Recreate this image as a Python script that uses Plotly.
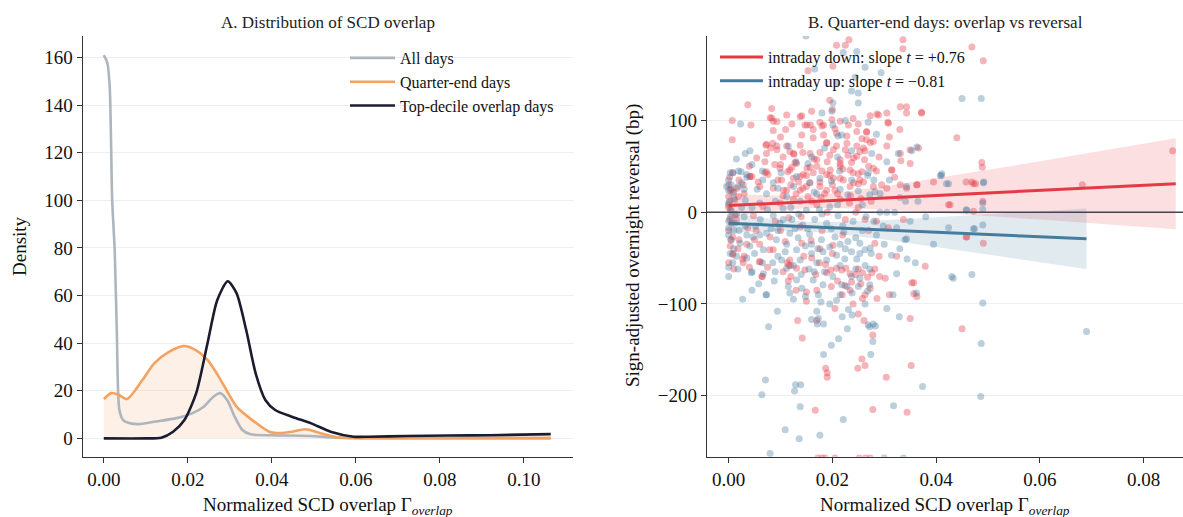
import plotly.graph_objects as go

# ---------------- Panel A: densities ----------------
all_x = [0, 0.0008, 0.0014, 0.002, 0.0026, 0.0031, 0.0037, 0.0046, 0.006, 0.0083, 0.012, 0.0174,
         0.021, 0.0238, 0.0261, 0.0277, 0.0294, 0.0312, 0.033, 0.0349, 0.04, 0.049, 0.0555, 0.062,
         0.08, 0.1, 0.1064]
all_y = [161, 158, 148, 100, 79, 45, 12, 7.7, 6.5, 6, 7, 8.5, 10.5, 13.3, 17.5, 19, 16, 9, 3.5, 1.7,
         1.3, 1, 0.3, 0.1, 0.1, 0.1, 0.1]

qe_x = [0, 0.0018, 0.0036, 0.0055, 0.0092, 0.012, 0.0156, 0.019, 0.022, 0.0247, 0.027, 0.0293,
        0.0316, 0.0348, 0.0394, 0.0421, 0.0449, 0.048, 0.0512, 0.0555, 0.061, 0.08, 0.1, 0.1064]
qe_y = [16.5, 19, 18.2, 16.5, 24.5, 31.5, 36.4, 38.8, 37, 33, 27, 20, 13.3, 8.4, 2.8, 2.2, 2.8, 3.8,
        2.4, 0.5, 0.1, 0.1, 0.1, 0.1]

top_x = [0, 0.01, 0.0137, 0.0165, 0.0192, 0.022, 0.0247, 0.027, 0.0295, 0.0316, 0.0339, 0.0362,
         0.0385, 0.0408, 0.0449, 0.0494, 0.054, 0.0595, 0.063, 0.072, 0.082, 0.092, 0.1064]
top_y = [0, 0, 0.3, 2.8, 7.7, 19, 40, 58, 66, 61, 45.5, 27, 16, 11.9, 9, 6.3, 2.8, 0.7, 0.7, 1, 1.2,
         1.3, 1.8]

# ---------------- Panel B: scatter ----------------
down_pts = [
    (0.0208, 182), (0.0232, 188), (0.0153, 154), (0.0195, 122), (0.0037, 117), (0.0007, 100),
    (0.0043, 95), (0.0083, 113), (0.0141, 105), (0.0151, 95), (0.0122, 96), (0.0086, 89),
    (0.0073, 74), (0.0093, 72), (0.0105, 60), (0.0143, 65), (0.0128, 54), (0.0176, 98),
    (0.0180, 94), (0.0205, 91), (0.0228, 83), (0.0189, 76), (0.0176, 65), (0.0208, 72),
    (0.0247, 72), (0.0237, 54), (0.0215, 53), (0.0157, 49), (0.0122, 49), (0.0201, 159),
    (0.0469, 180), (0.0336, 188), (0.0225, 182), (0.0336, 178), (0.0491, 165), (0.0343, 115),
    (0.0372, 109), (0.0286, 107), (0.0273, 105), (0.0307, 98), (0.0250, 96), (0.0440, 81),
    (0.0266, 87), (0.0257, 80), (0.0273, 76), (0.0305, 72), (0.0263, 67), (0.0331, 64),
    (0.0350, 53), (0.0488, 54), (0.0489, 49), (0.0247, 61), (0.0262, 57), (0.0285, 45),
    (0.0180, 45), (0.0195, 40),
    (0.0008, 43), (0.0045, 39), (0.0076, 41), (0.0095, 35), (0.0114, 44), (0.0138, 39),
    (0.0163, 43), (0.0189, 41), (0.0215, 37), (0.0240, 43), (0.0086, 26), (0.0112, 24),
    (0.0143, 26), (0.0176, 28), (0.0205, 24), (0.0234, 28), (0.0000, 17), (0.0000, 10),
    (0.0003, 2.5), (0.0012, -3), (0.0006, -12), (0.0008, -27), (0.0003, -37), (0.0008, -45),
    (0.0000, -55), (0.0028, -55), (0.0061, -54), (0.0086, -41), (0.0118, -52), (0.0131, -61),
    (0.0147, -63), (0.0150, -87), (0.0064, -70), (0.0189, -66), (0.0218, -63), (0.0226, -61),
    (0.0237, -76), (0.0176, -40), (0.0037, -17), (0.0053, -20), (0.0080, -27), (0.0109, -32),
    (0.0141, -34), (0.0159, -31), (0.0201, -36), (0.0099, 10), (0.0125, 14), (0.0153, 17),
    (0.0178, 16), (0.0215, 14), (0.0233, 10), (0.0066, 6), (0.0048, -4), (0.0116, -6),
    (0.0190, 0), (0.0225, -8), (0.0138, -16), (0.0150, -97), (0.0219, -90),
    (0.0000, 30), (0.0005, 25), (0.0010, 22), (0.0000, 5), (0.0015, -8), (0.0000, -20),
    (0.0020, -30), (0.0010, -62), (0.0030, -48), (0.0008, -46), (0.0027, -51), (0.0059, -54),
    (0.0065, -70), (0.0079, -41), (0.0113, -55), (0.0116, -58), (0.0119, -58), (0.0168, -68),
    (0.0187, -57), (0.0197, -63), (0.0208, -61), (0.0224, -80), (0.0234, -67), (0.0245, -68),
    (0.0258, -66), (0.0268, -71), (0.0276, -66), (0.0357, -89), (0.0258, -94), (0.0234, -85),
    (0.0198, -81),
    (0.0250, 42), (0.0260, 33), (0.0250, 31), (0.0314, 46), (0.0363, 30), (0.0469, 33),
    (0.0472, 31), (0.0490, 12), (0.0427, 8), (0.0472, 1), (0.0250, 5), (0.0263, -8),
    (0.0308, -17), (0.0337, -8), (0.0459, -27), (0.0491, -34), (0.0282, -34), (0.0324, -48),
    (0.0379, -59), (0.0282, -62), (0.0250, -62), (0.0302, -72), (0.0291, -70), (0.0353, -77),
    (0.0357, -77), (0.0273, -83), (0.0263, -90), (0.0286, -94), (0.0310, -90), (0.0363, -92),
    (0.0133, -118), (0.0142, -137), (0.0170, -118), (0.0250, -111), (0.0187, -170),
    (0.0190, -175), (0.0190, -180), (0.0249, -170), (0.0167, -216), (0.0172, -268),
    (0.0180, -268), (0.0186, -268), (0.0205, -268), (0.0261, -118), (0.0350, -116),
    (0.0450, -127), (0.0278, -134), (0.0257, -160), (0.0263, -167), (0.0352, -167),
    (0.0304, -180), (0.0278, -215), (0.0344, -218), (0.0252, -268), (0.0264, -268),
    (0.0273, -268),
    (0.0856, 67), (0.0682, 30), (0.0458, 33), (0.0476, 31), (0.0458, -27), (0.0424, 8),
    (0.0007, 79), (0.0080, 103), (0.0086, 99), (0.0072, 73), (0.0081, 70), (0.0085, 75),
    (0.0118, 66), (0.0158, 95), (0.0141, 84), (0.0126, 63), (0.0041, 39), (0.0070, 43),
    (0.0100, 52), (0.0135, 33), (0.0165, 58), (0.0190, 55), (0.0220, 47), (0.0150, 40),
    (0.0060, 28), (0.0030, 20), (0.0170, 8), (0.0200, 30), (0.0230, 62), (0.0100, 82),
    (0.0083, 102.5), (0.0093, 98.8), (0.0112, 106), (0.0138, 104), (0.0147, 95), (0.0183, 95),
    (0.0199, 101), (0.0215, 99), (0.0231, 95), (0.0247, 88), (0.0266, 88), (0.0279, 77),
    (0.0289, 106), (0.0305, 108), (0.0308, 97), (0.0331, 115), (0.0343, 108), (0.0372, 108),
    (0.0350, 68), (0.0366, 70), (0.0332, 56), (0.0315, 46), (0.0279, 48), (0.0257, 44),
    (0.0234, 46), (0.0215, 50), (0.0196, 46), (0.0170, 50), (0.0151, 48), (0.0131, 53),
    (0.0118, 46), (0.0099, 48), (0.0089, 52), (0.0073, 44), (0.0057, 33), (0.0041, 39),
    (0.0028, 30), (0.0016, 26), (0.0003, 24), (0.0012, 13), (0.0019, 17), (0.0102, 35),
    (0.0125, 37), (0.0144, 41), (0.0157, 32), (0.0176, 33), (0.0202, 37), (0.0221, 35),
    (0.0241, 32), (0.0253, 35), (0.0279, 28), (0.0305, 26), (0.0331, 30), (0.0343, 26),
    (0.0363, 30), (0.0395, 33), (0.0106, 24), (0.0138, 24), (0.0189, 24), (0.0170, 57),
    (0.0215, 57), (0.0241, 59), (0.0253, 66), (0.0202, 68), (0.0228, 75), (0.0189, 75),
    (0.0163, 81), (0.0138, 73), (0.0112, 72), (0.0093, 68), (0.0073, 64), (0.0054, 59),
    (0.0125, 64), (0.0157, 64), (0.0266, 79), (0.0260, 70), (0.0208, 86), (0.0183, 84),
    (0.0163, 90),
    (0.0120, -70), (0.0160, -50), (0.0200, -45), (0.0220, -25), (0.0270, -20), (0.0290, -48),
    (0.0170, -85), (0.0130, -85), (0.0240, -100), (0.0100, -20), (0.0060, -35), (0.0040, -60),
    (0.0285, -10), (0.0180, -20), (0.0140, -5), (0.0245, 0), (0.0090, -10), (0.0050, -30),
    (0.0115, -75), (0.0205, -105),
    (0.0105, 18), (0.0130, 20), (0.0160, 12), (0.0185, 20), (0.0210, 20), (0.0235, 18),
    (0.0255, 15), (0.0275, 12), (0.0295, 30), (0.0320, 38), (0.0120, 30), (0.0150, 28),
    (0.0195, 62), (0.0225, 68), (0.0270, 50), (0.0290, 60), (0.0310, 82), (0.0330, 90),
    (0.0160, 110), (0.0200, 112), (0.0240, 102), (0.0110, 90), (0.0070, 55), (0.0040, 50),
    (0.0020, 35), (0.0002, 38), (0.0004, -30), (0.0002, -8), (0.0018, -40), (0.0035, -35),
    (0.0075, -60), (0.0105, -65), (0.0145, -48), (0.0175, -55), (0.0210, -75), (0.0255, -78),
]

up_pts = [
    (0.0149, 192), (0.0166, 156), (0.0221, 174), (0.0208, 141), (0.0237, 132), (0.0244, 147),
    (0.0201, 119), (0.0199, 110), (0.0250, 119), (0.0023, 96), (0.0032, 64), (0.0041, 67),
    (0.0201, 95), (0.0211, 83), (0.0153, 53), (0.0008, 43), (0.0024, 44), (0.0237, 67),
    (0.0450, 124), (0.0487, 124), (0.0363, 71), (0.0353, 67), (0.0327, 64), (0.0276, 64),
    (0.0250, 130), (0.0294, 152), (0.0263, 158), (0.0269, 98), (0.0269, 43), (0.0411, 42),
    (0.0247, 175), (0.0218, 84),
    (0.0003, 43), (0.0019, 45), (0.0025, 32), (0.0035, 41), (0.0066, 35), (0.0086, 32),
    (0.0101, 43), (0.0131, 39), (0.0156, 32), (0.0176, 37), (0.0198, 34), (0.0214, 45),
    (0.0237, 35), (-0.0004, 28), (0.0000, 24), (0.0008, 22), (0.0032, 13), (0.0073, 20),
    (0.0112, 17), (0.0138, 12), (0.0170, 20), (0.0195, 6), (0.0230, 19), (0.0003, -5),
    (0.0000, -10), (0.0000, -17), (0.0010, -20), (0.0032, -15), (0.0061, -8), (0.0086, -4),
    (0.0099, -12), (0.0122, -8), (0.0143, -14), (0.0166, -8), (0.0189, -12), (0.0211, -4),
    (0.0240, -10), (0.0047, -27), (0.0073, -23), (0.0092, -30), (0.0118, -23), (0.0134, -28),
    (0.0156, -24), (0.0179, -30), (0.0205, -27), (0.0230, -32), (0.0022, -34), (0.0041, -37),
    (0.0067, -41), (0.0109, -43), (0.0131, -41), (0.0160, -45), (0.0182, -43), (0.0208, -47),
    (0.0237, -43), (0.0102, -52), (0.0138, -52), (0.0170, -55), (0.0189, -52), (0.0224, -51),
    (0.0000, -70), (0.0045, -65), (0.0090, -65), (0.0112, -61), (0.0131, -74), (0.0163, -74),
    (0.0182, -79), (0.0201, -70), (0.0218, -79), (0.0237, -70), (0.0115, -81), (0.0141, -83),
    (0.0228, -81), (0.0027, -95), (0.0073, -90), (0.0173, -90), (0.0215, -90),
    (0.0000, 35), (0.0005, 30), (0.0010, 15), (0.0000, 8), (0.0005, 2), (0.0015, -2),
    (0.0000, -25), (0.0005, -30), (0.0010, -40), (0.0015, -48), (0.0000, -60), (0.0020, -20),
    (0.0025, 5), (0.0030, 25), (0.0035, 38), (0.0044, -66), (0.0067, -67), (0.0072, -90),
    (0.0268, 40), (0.0282, 22), (0.0292, 20), (0.0272, 19), (0.0343, 28), (0.0341, 12),
    (0.0330, 16), (0.0410, 40), (0.0424, 31), (0.0491, 32), (0.0292, 0), (0.0305, 0),
    (0.0320, 0), (0.0459, 2.5), (0.0490, 3), (0.0298, -15), (0.0324, -17), (0.0424, -17),
    (0.0472, -18), (0.0340, -30), (0.0343, -29), (0.0253, -34), (0.0263, -41), (0.0273, -39),
    (0.0253, -45), (0.0314, -47), (0.0344, -51), (0.0247, -51), (0.0263, -58), (0.0272, -62),
    (0.0324, -67), (0.0430, -70), (0.0433, -72), (0.0469, -68), (0.0253, -72), (0.0250, -81),
    (0.0272, -79), (0.0317, -90), (0.0362, -88), (0.0263, -100), (0.0490, -99),
    (0.0094, -108), (0.0170, -108), (0.0160, -117), (0.0173, -116), (0.0171, -122),
    (0.0183, -122), (0.0077, -125), (0.0231, -106), (0.0238, -112), (0.0219, -114),
    (0.0229, -127), (0.0212, -138), (0.0198, -145), (0.0183, -155), (0.0071, -183),
    (0.0129, -188), (0.0139, -188), (0.0127, -195), (0.0064, -199), (0.0138, -212),
    (0.0221, -226), (0.0109, -237), (0.0176, -243), (0.0136, -247), (0.0080, -263),
    (0.0329, -114), (0.0269, -123), (0.0279, -122), (0.0283, -124), (0.0272, -125),
    (0.0278, -141), (0.0274, -155), (0.0487, -143), (0.0374, -190), (0.0486, -201),
    (0.0318, -211), (0.0300, -268), (0.0337, -268),
    (0.0690, -130), (0.0492, 33), (0.0490, 10), (0.0490, -14), (0.0474, -18), (0.0408, 40),
    (0.0420, 31), (0.0458, 2.5), (0.0120, 5), (0.0150, 2), (0.0180, -2), (0.0210, 8),
    (0.0060, 10), (0.0160, -35), (0.0125, -95), (0.0195, -100), (0.0050, -45), (0.0095, -20),
    (0.0055, 25), (0.0095, 26), (0.0125, 28), (0.0165, 22), (0.0215, 25), (0.0250, 23),
    (0.0045, 5), (0.0075, 3), (0.0105, 4), (0.0135, -2), (0.0175, 3), (0.0220, -15),
    (0.0265, -5), (0.0285, -25), (0.0275, -45), (0.0052, -15), (0.0082, -18), (0.0112, -35),
    (0.0148, -37), (0.0195, -38), (0.0225, -40), (0.0245, -28), (0.0035, -50), (0.0065, -55),
    (0.0095, -48), (0.0125, -58), (0.0155, -62), (0.0185, -65), (0.0215, -58), (0.0245, -62),
    (0.0058, -78), (0.0088, -75), (0.0118, -88), (0.0148, -92), (0.0178, -98), (0.0208, -96),
    (0.0238, -88), (0.0268, -86), (0.0045, -85), (0.0160, 60), (0.0130, 55), (0.0185, 70),
    (0.0210, 60), (0.0225, 100), (0.0180, 108), (0.0015, 58), (0.0045, 52), (0.0115, 72),
    (0.0285, 85), (0.0310, 35), (0.0365, 12), (0.0380, -5), (0.0395, -35), (0.0360, -55),
    (0.0305, -105), (0.0002, 12), (0.0012, -12), (0.0008, -55), (0.0018, -62), (0.0003, -45),
    (0.0105, -8), (0.0128, -18), (0.0152, -18), (0.0172, -40), (0.0198, -18), (0.0222, -22),
    (0.0258, -20), (0.0280, -10), (0.0300, -35), (0.0330, -40), (0.0350, -10), (0.0258, 8),
    (0.0280, 35), (0.0305, 55), (0.0215, -35), (0.0165, -65), (0.0140, -68), (0.0085, -55),
    (0.0060, -25), (0.0030, -5), (0.0035, -25), (0.0018, 28), (0.0065, 45), (0.0090, 12),
]
down_x = [p[0] for p in down_pts]
down_y = [p[1] for p in down_pts]
up_x = [p[0] for p in up_pts]
up_y = [p[1] for p in up_pts]

# fitted lines and confidence bands
down_fit_x = [0.0, 0.0862]
down_fit_y = [7.2, 31.0]
down_band_x = [0.0, 0.005, 0.01, 0.015, 0.02, 0.03, 0.04, 0.05, 0.06, 0.07, 0.0862]
down_band_lo = [-5.3, -1.2, 2.2, 4.3, 4.9, 3.0, -0.4, -4.1, -8.1, -12.0, -18.6]
down_band_hi = [19.7, 18.4, 17.8, 18.3, 20.5, 28.0, 36.8, 46.1, 55.5, 65.0, 80.6]

up_fit_x = [0.0, 0.069]
up_fit_y = [-12.0, -29.0]
up_band_x = [0.0, 0.005, 0.01, 0.015, 0.02, 0.03, 0.04, 0.05, 0.06, 0.069]
up_band_lo = [-22.5, -21.2, -20.6, -21.0, -23.0, -29.9, -37.8, -46.1, -54.5, -62.0]
up_band_hi = [-1.5, -5.2, -8.4, -10.4, -10.8, -8.9, -5.8, -2.5, 0.9, 4.0]

RED = "#e63946"
BLUE = "#457b9d"
GRAY = "#adb5bd"
ORANGE = "#f4a261"
DARK = "#1c1c30"
FONT = "Liberation Serif"

fig = go.Figure()

# Panel A
fig.add_trace(go.Scatter(x=qe_x, y=qe_y, mode="none", fill="tozeroy",
                         fillcolor="rgba(244,162,97,0.16)", line=dict(shape="spline", smoothing=0.7),
                         showlegend=False, hoverinfo="skip", xaxis="x", yaxis="y"))
fig.add_trace(go.Scatter(x=all_x, y=all_y, mode="lines", name="All days",
                         line=dict(color=GRAY, width=2.6, shape="spline", smoothing=0.7),
                         xaxis="x", yaxis="y", legend="legend"))
fig.add_trace(go.Scatter(x=qe_x, y=qe_y, mode="lines", name="Quarter-end days",
                         line=dict(color=ORANGE, width=2.6, shape="spline", smoothing=0.7),
                         xaxis="x", yaxis="y", legend="legend"))
fig.add_trace(go.Scatter(x=top_x, y=top_y, mode="lines", name="Top-decile overlap days",
                         line=dict(color=DARK, width=2.6, shape="spline", smoothing=0.7),
                         xaxis="x", yaxis="y", legend="legend"))

# Panel B bands
fig.add_trace(go.Scatter(x=down_band_x, y=down_band_lo, mode="lines", line=dict(width=0),
                         showlegend=False, hoverinfo="skip", xaxis="x2", yaxis="y2"))
fig.add_trace(go.Scatter(x=down_band_x, y=down_band_hi, mode="lines", line=dict(width=0),
                         fill="tonexty", fillcolor="rgba(230,57,70,0.16)",
                         showlegend=False, hoverinfo="skip", xaxis="x2", yaxis="y2"))
fig.add_trace(go.Scatter(x=up_band_x, y=up_band_lo, mode="lines", line=dict(width=0),
                         showlegend=False, hoverinfo="skip", xaxis="x2", yaxis="y2"))
fig.add_trace(go.Scatter(x=up_band_x, y=up_band_hi, mode="lines", line=dict(width=0),
                         fill="tonexty", fillcolor="rgba(69,123,157,0.16)",
                         showlegend=False, hoverinfo="skip", xaxis="x2", yaxis="y2"))

# scatter
fig.add_trace(go.Scatter(x=down_x, y=down_y, mode="markers", showlegend=False,
                         marker=dict(color="rgba(230,57,70,0.38)", size=7, line=dict(width=0)),
                         xaxis="x2", yaxis="y2"))
fig.add_trace(go.Scatter(x=up_x, y=up_y, mode="markers", showlegend=False,
                         marker=dict(color="rgba(69,123,157,0.36)", size=7, line=dict(width=0)),
                         xaxis="x2", yaxis="y2"))

# fit lines
fig.add_trace(go.Scatter(x=down_fit_x, y=down_fit_y, mode="lines",
                         name="intraday down: slope <i>t</i> = +0.76",
                         line=dict(color=RED, width=3), xaxis="x2", yaxis="y2", legend="legend2"))
fig.add_trace(go.Scatter(x=up_fit_x, y=up_fit_y, mode="lines",
                         name="intraday up: slope <i>t</i> = \u22120.81",
                         line=dict(color=BLUE, width=3), xaxis="x2", yaxis="y2", legend="legend2"))

W, H = 1183, 517
top_px, bot_px = 36, 456.7
ydom = [1 - bot_px / H, 1 - top_px / H]
axis_common = dict(showline=True, linecolor="#333333", linewidth=1.4, ticks="outside",
                   ticklen=5, tickwidth=1.2, tickcolor="#333333", zeroline=False,
                   tickfont=dict(family=FONT, size=19, color="#111111"))

fig.update_layout(
    width=W, height=H, margin=dict(l=0, r=0, t=0, b=0),
    paper_bgcolor="white", plot_bgcolor="white",
    font=dict(family=FONT, color="#111111"),
    xaxis=dict(domain=[82.7 / W, 573 / W], range=[-0.00502, 0.1117],
               tickvals=[0, 0.02, 0.04, 0.06, 0.08, 0.10], tickformat=".2f",
               showgrid=False, anchor="y", **axis_common),
    yaxis=dict(domain=ydom, range=[-7.7, 169], tickvals=[0, 20, 40, 60, 80, 100, 120, 140, 160],
               showgrid=True, gridcolor="#eceef2", gridwidth=1, anchor="x", **axis_common),
    xaxis2=dict(domain=[707 / W, 1.0], range=[-0.00417, 0.0876],
                tickvals=[0, 0.02, 0.04, 0.06, 0.08], tickformat=".2f",
                showgrid=False, anchor="y2", **axis_common),
    yaxis2=dict(domain=ydom, range=[-266.5, 192], tickvals=[-200, -100, 0, 100],
                showgrid=True, gridcolor="#eceef2", gridwidth=1, anchor="x2", **axis_common),
    legend=dict(x=345 / W, y=1 - 41 / H, xanchor="left", yanchor="top", traceorder="normal",
                itemwidth=45, bgcolor="rgba(0,0,0,0)",
                font=dict(family=FONT, size=16, color="#111111"), tracegroupgap=0),
    legend2=dict(x=715 / W, y=1 - 40 / H, xanchor="left", yanchor="top", traceorder="normal",
                 itemwidth=43, bgcolor="rgba(0,0,0,0)",
                 font=dict(family=FONT, size=16, color="#111111")),
    shapes=[dict(type="line", xref="x2 domain", yref="y2", x0=0, x1=1, y0=0, y1=0,
                 line=dict(color="#454558", width=1.5), layer="above")],
    annotations=[
        dict(text="A. Distribution of SCD overlap", x=(82.7 + 573) / 2 / W, y=1 - 23 / H,
             xref="paper", yref="paper", showarrow=False, xanchor="center", yanchor="middle",
             font=dict(family=FONT, size=17, color="#222222")),
        dict(text="B. Quarter-end days: overlap vs reversal", x=(707 + 1183) / 2 / W, y=1 - 23 / H,
             xref="paper", yref="paper", showarrow=False, xanchor="center", yanchor="middle",
             font=dict(family=FONT, size=17, color="#222222")),
        dict(text="Normalized SCD overlap \u0393<sub><i>overlap</i></sub>", x=(82.7 + 573) / 2 / W,
             y=1 - 506 / H, xref="paper", yref="paper", showarrow=False, xanchor="center",
             yanchor="middle", font=dict(family=FONT, size=19, color="#111111")),
        dict(text="Normalized SCD overlap \u0393<sub><i>overlap</i></sub>", x=(707 + 1183) / 2 / W,
             y=1 - 506 / H, xref="paper", yref="paper", showarrow=False, xanchor="center",
             yanchor="middle", font=dict(family=FONT, size=19, color="#111111")),
        dict(text="Density", x=20 / W, y=1 - 246 / H, xref="paper", yref="paper",
             showarrow=False, textangle=-90, xanchor="center", yanchor="middle",
             font=dict(family=FONT, size=19, color="#111111")),
        dict(text="Sign-adjusted overnight reversal (bp)", x=633 / W, y=1 - 246 / H,
             xref="paper", yref="paper", showarrow=False, textangle=-90, xanchor="center",
             yanchor="middle", font=dict(family=FONT, size=19, color="#111111")),
    ],
)

fig.write_html("out.html")
